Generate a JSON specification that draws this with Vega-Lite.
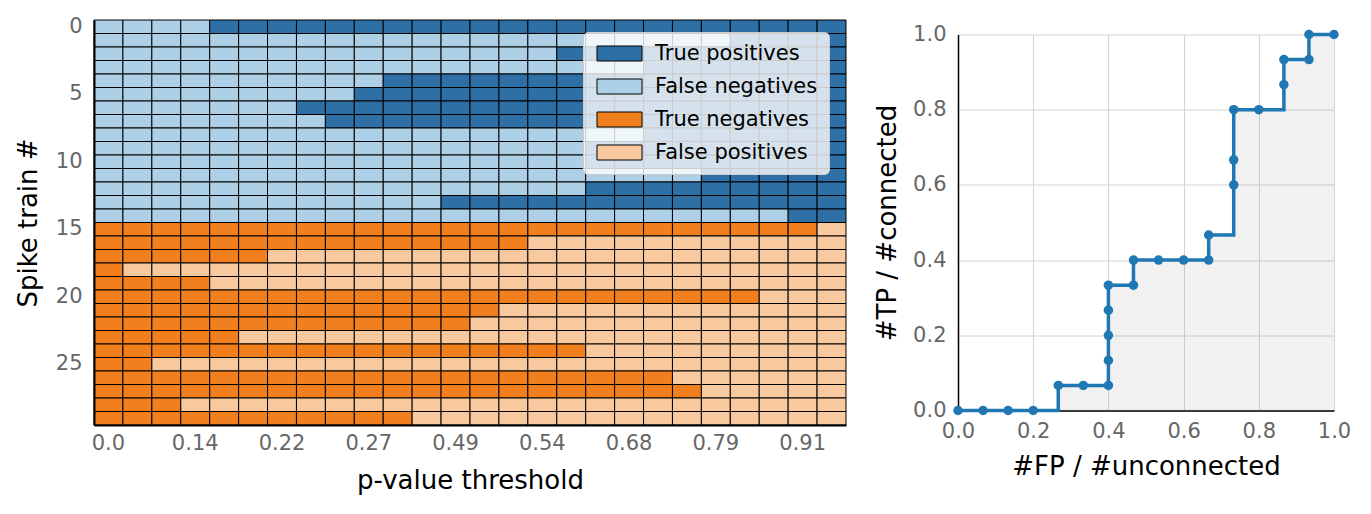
{
"$schema": "https://vega.github.io/schema/vega-lite/v6.json",
"padding": {"left": 15, "top": 15, "right": 5, "bottom": 5},
"spacing": 112,
"bounds": "flush",
"center": true,
"config": {"font": "DejaVu Sans", "view": {"stroke": null},
  "axis": {"labelFontSize": 21, "titleFontSize": 26, "labelColor": "#666666", "titleColor": "black", "titleFontWeight": "normal", "domainColor": "black", "domainWidth": 1.5, "ticks": false, "labelFlush": false}},
"datasets": {
"roc": [
{"i":0,"fp":0,"tp":0},{"i":1,"fp":0.0667,"tp":0},{"i":2,"fp":0.1333,"tp":0},{"i":3,"fp":0.2,"tp":0},{"i":4,"fp":0.2667,"tp":0.0667},{"i":5,"fp":0.3333,"tp":0.0667},{"i":6,"fp":0.4,"tp":0.0667},{"i":7,"fp":0.4,"tp":0.1333},{"i":8,"fp":0.4,"tp":0.2},{"i":9,"fp":0.4,"tp":0.2667},{"i":10,"fp":0.4,"tp":0.3333},{"i":11,"fp":0.4667,"tp":0.3333},{"i":12,"fp":0.4667,"tp":0.4},{"i":13,"fp":0.5333,"tp":0.4},{"i":14,"fp":0.6,"tp":0.4},{"i":15,"fp":0.6667,"tp":0.4},{"i":16,"fp":0.6667,"tp":0.4667},{"i":17,"fp":0.7333,"tp":0.6},{"i":18,"fp":0.7333,"tp":0.6667},{"i":19,"fp":0.7333,"tp":0.8},{"i":20,"fp":0.8,"tp":0.8},{"i":21,"fp":0.8667,"tp":0.8667},{"i":22,"fp":0.8667,"tp":0.9333},{"i":23,"fp":0.9333,"tp":0.9333},{"i":24,"fp":0.9333,"tp":1.0},{"i":25,"fp":1.0,"tp":1.0}
],
"cells": [
{"p":"0.0","s":0,"k":"FN"},{"p":"0.07","s":0,"k":"FN"},{"p":"0.1","s":0,"k":"FN"},{"p":"0.14","s":0,"k":"FN"},{"p":"0.17","s":0,"k":"TP"},{"p":"0.2","s":0,"k":"TP"},{"p":"0.22","s":0,"k":"TP"},{"p":"0.24","s":0,"k":"TP"},{"p":"0.25","s":0,"k":"TP"},{"p":"0.27","s":0,"k":"TP"},{"p":"0.36","s":0,"k":"TP"},{"p":"0.44","s":0,"k":"TP"},{"p":"0.49","s":0,"k":"TP"},{"p":"0.5","s":0,"k":"TP"},{"p":"0.52","s":0,"k":"TP"},{"p":"0.54","s":0,"k":"TP"},{"p":"0.59","s":0,"k":"TP"},{"p":"0.64","s":0,"k":"TP"},{"p":"0.68","s":0,"k":"TP"},{"p":"0.72","s":0,"k":"TP"},{"p":"0.76","s":0,"k":"TP"},{"p":"0.79","s":0,"k":"TP"},{"p":"0.83","s":0,"k":"TP"},{"p":"0.87","s":0,"k":"TP"},{"p":"0.91","s":0,"k":"TP"},{"p":"0.95","s":0,"k":"TP"},
{"p":"0.0","s":1,"k":"FN"},{"p":"0.07","s":1,"k":"FN"},{"p":"0.1","s":1,"k":"FN"},{"p":"0.14","s":1,"k":"FN"},{"p":"0.17","s":1,"k":"FN"},{"p":"0.2","s":1,"k":"FN"},{"p":"0.22","s":1,"k":"FN"},{"p":"0.24","s":1,"k":"FN"},{"p":"0.25","s":1,"k":"FN"},{"p":"0.27","s":1,"k":"FN"},{"p":"0.36","s":1,"k":"FN"},{"p":"0.44","s":1,"k":"FN"},{"p":"0.49","s":1,"k":"FN"},{"p":"0.5","s":1,"k":"FN"},{"p":"0.52","s":1,"k":"FN"},{"p":"0.54","s":1,"k":"FN"},{"p":"0.59","s":1,"k":"FN"},{"p":"0.64","s":1,"k":"FN"},{"p":"0.68","s":1,"k":"FN"},{"p":"0.72","s":1,"k":"FN"},{"p":"0.76","s":1,"k":"FN"},{"p":"0.79","s":1,"k":"FN"},{"p":"0.83","s":1,"k":"TP"},{"p":"0.87","s":1,"k":"TP"},{"p":"0.91","s":1,"k":"TP"},{"p":"0.95","s":1,"k":"TP"},
{"p":"0.0","s":2,"k":"FN"},{"p":"0.07","s":2,"k":"FN"},{"p":"0.1","s":2,"k":"FN"},{"p":"0.14","s":2,"k":"FN"},{"p":"0.17","s":2,"k":"FN"},{"p":"0.2","s":2,"k":"FN"},{"p":"0.22","s":2,"k":"FN"},{"p":"0.24","s":2,"k":"FN"},{"p":"0.25","s":2,"k":"FN"},{"p":"0.27","s":2,"k":"FN"},{"p":"0.36","s":2,"k":"FN"},{"p":"0.44","s":2,"k":"FN"},{"p":"0.49","s":2,"k":"FN"},{"p":"0.5","s":2,"k":"FN"},{"p":"0.52","s":2,"k":"FN"},{"p":"0.54","s":2,"k":"FN"},{"p":"0.59","s":2,"k":"TP"},{"p":"0.64","s":2,"k":"TP"},{"p":"0.68","s":2,"k":"TP"},{"p":"0.72","s":2,"k":"TP"},{"p":"0.76","s":2,"k":"TP"},{"p":"0.79","s":2,"k":"TP"},{"p":"0.83","s":2,"k":"TP"},{"p":"0.87","s":2,"k":"TP"},{"p":"0.91","s":2,"k":"TP"},{"p":"0.95","s":2,"k":"TP"},
{"p":"0.0","s":3,"k":"FN"},{"p":"0.07","s":3,"k":"FN"},{"p":"0.1","s":3,"k":"FN"},{"p":"0.14","s":3,"k":"FN"},{"p":"0.17","s":3,"k":"FN"},{"p":"0.2","s":3,"k":"FN"},{"p":"0.22","s":3,"k":"FN"},{"p":"0.24","s":3,"k":"FN"},{"p":"0.25","s":3,"k":"FN"},{"p":"0.27","s":3,"k":"FN"},{"p":"0.36","s":3,"k":"FN"},{"p":"0.44","s":3,"k":"FN"},{"p":"0.49","s":3,"k":"FN"},{"p":"0.5","s":3,"k":"FN"},{"p":"0.52","s":3,"k":"FN"},{"p":"0.54","s":3,"k":"FN"},{"p":"0.59","s":3,"k":"FN"},{"p":"0.64","s":3,"k":"FN"},{"p":"0.68","s":3,"k":"FN"},{"p":"0.72","s":3,"k":"TP"},{"p":"0.76","s":3,"k":"TP"},{"p":"0.79","s":3,"k":"TP"},{"p":"0.83","s":3,"k":"TP"},{"p":"0.87","s":3,"k":"TP"},{"p":"0.91","s":3,"k":"TP"},{"p":"0.95","s":3,"k":"TP"},
{"p":"0.0","s":4,"k":"FN"},{"p":"0.07","s":4,"k":"FN"},{"p":"0.1","s":4,"k":"FN"},{"p":"0.14","s":4,"k":"FN"},{"p":"0.17","s":4,"k":"FN"},{"p":"0.2","s":4,"k":"FN"},{"p":"0.22","s":4,"k":"FN"},{"p":"0.24","s":4,"k":"FN"},{"p":"0.25","s":4,"k":"FN"},{"p":"0.27","s":4,"k":"FN"},{"p":"0.36","s":4,"k":"TP"},{"p":"0.44","s":4,"k":"TP"},{"p":"0.49","s":4,"k":"TP"},{"p":"0.5","s":4,"k":"TP"},{"p":"0.52","s":4,"k":"TP"},{"p":"0.54","s":4,"k":"TP"},{"p":"0.59","s":4,"k":"TP"},{"p":"0.64","s":4,"k":"TP"},{"p":"0.68","s":4,"k":"TP"},{"p":"0.72","s":4,"k":"TP"},{"p":"0.76","s":4,"k":"TP"},{"p":"0.79","s":4,"k":"TP"},{"p":"0.83","s":4,"k":"TP"},{"p":"0.87","s":4,"k":"TP"},{"p":"0.91","s":4,"k":"TP"},{"p":"0.95","s":4,"k":"TP"},
{"p":"0.0","s":5,"k":"FN"},{"p":"0.07","s":5,"k":"FN"},{"p":"0.1","s":5,"k":"FN"},{"p":"0.14","s":5,"k":"FN"},{"p":"0.17","s":5,"k":"FN"},{"p":"0.2","s":5,"k":"FN"},{"p":"0.22","s":5,"k":"FN"},{"p":"0.24","s":5,"k":"FN"},{"p":"0.25","s":5,"k":"FN"},{"p":"0.27","s":5,"k":"TP"},{"p":"0.36","s":5,"k":"TP"},{"p":"0.44","s":5,"k":"TP"},{"p":"0.49","s":5,"k":"TP"},{"p":"0.5","s":5,"k":"TP"},{"p":"0.52","s":5,"k":"TP"},{"p":"0.54","s":5,"k":"TP"},{"p":"0.59","s":5,"k":"TP"},{"p":"0.64","s":5,"k":"TP"},{"p":"0.68","s":5,"k":"TP"},{"p":"0.72","s":5,"k":"TP"},{"p":"0.76","s":5,"k":"TP"},{"p":"0.79","s":5,"k":"TP"},{"p":"0.83","s":5,"k":"TP"},{"p":"0.87","s":5,"k":"TP"},{"p":"0.91","s":5,"k":"TP"},{"p":"0.95","s":5,"k":"TP"},
{"p":"0.0","s":6,"k":"FN"},{"p":"0.07","s":6,"k":"FN"},{"p":"0.1","s":6,"k":"FN"},{"p":"0.14","s":6,"k":"FN"},{"p":"0.17","s":6,"k":"FN"},{"p":"0.2","s":6,"k":"FN"},{"p":"0.22","s":6,"k":"FN"},{"p":"0.24","s":6,"k":"TP"},{"p":"0.25","s":6,"k":"TP"},{"p":"0.27","s":6,"k":"TP"},{"p":"0.36","s":6,"k":"TP"},{"p":"0.44","s":6,"k":"TP"},{"p":"0.49","s":6,"k":"TP"},{"p":"0.5","s":6,"k":"TP"},{"p":"0.52","s":6,"k":"TP"},{"p":"0.54","s":6,"k":"TP"},{"p":"0.59","s":6,"k":"TP"},{"p":"0.64","s":6,"k":"TP"},{"p":"0.68","s":6,"k":"TP"},{"p":"0.72","s":6,"k":"TP"},{"p":"0.76","s":6,"k":"TP"},{"p":"0.79","s":6,"k":"TP"},{"p":"0.83","s":6,"k":"TP"},{"p":"0.87","s":6,"k":"TP"},{"p":"0.91","s":6,"k":"TP"},{"p":"0.95","s":6,"k":"TP"},
{"p":"0.0","s":7,"k":"FN"},{"p":"0.07","s":7,"k":"FN"},{"p":"0.1","s":7,"k":"FN"},{"p":"0.14","s":7,"k":"FN"},{"p":"0.17","s":7,"k":"FN"},{"p":"0.2","s":7,"k":"FN"},{"p":"0.22","s":7,"k":"FN"},{"p":"0.24","s":7,"k":"FN"},{"p":"0.25","s":7,"k":"TP"},{"p":"0.27","s":7,"k":"TP"},{"p":"0.36","s":7,"k":"TP"},{"p":"0.44","s":7,"k":"TP"},{"p":"0.49","s":7,"k":"TP"},{"p":"0.5","s":7,"k":"TP"},{"p":"0.52","s":7,"k":"TP"},{"p":"0.54","s":7,"k":"TP"},{"p":"0.59","s":7,"k":"TP"},{"p":"0.64","s":7,"k":"TP"},{"p":"0.68","s":7,"k":"TP"},{"p":"0.72","s":7,"k":"TP"},{"p":"0.76","s":7,"k":"TP"},{"p":"0.79","s":7,"k":"TP"},{"p":"0.83","s":7,"k":"TP"},{"p":"0.87","s":7,"k":"TP"},{"p":"0.91","s":7,"k":"TP"},{"p":"0.95","s":7,"k":"TP"},
{"p":"0.0","s":8,"k":"FN"},{"p":"0.07","s":8,"k":"FN"},{"p":"0.1","s":8,"k":"FN"},{"p":"0.14","s":8,"k":"FN"},{"p":"0.17","s":8,"k":"FN"},{"p":"0.2","s":8,"k":"FN"},{"p":"0.22","s":8,"k":"FN"},{"p":"0.24","s":8,"k":"FN"},{"p":"0.25","s":8,"k":"FN"},{"p":"0.27","s":8,"k":"FN"},{"p":"0.36","s":8,"k":"FN"},{"p":"0.44","s":8,"k":"FN"},{"p":"0.49","s":8,"k":"FN"},{"p":"0.5","s":8,"k":"FN"},{"p":"0.52","s":8,"k":"FN"},{"p":"0.54","s":8,"k":"FN"},{"p":"0.59","s":8,"k":"FN"},{"p":"0.64","s":8,"k":"FN"},{"p":"0.68","s":8,"k":"FN"},{"p":"0.72","s":8,"k":"TP"},{"p":"0.76","s":8,"k":"TP"},{"p":"0.79","s":8,"k":"TP"},{"p":"0.83","s":8,"k":"TP"},{"p":"0.87","s":8,"k":"TP"},{"p":"0.91","s":8,"k":"TP"},{"p":"0.95","s":8,"k":"TP"},
{"p":"0.0","s":9,"k":"FN"},{"p":"0.07","s":9,"k":"FN"},{"p":"0.1","s":9,"k":"FN"},{"p":"0.14","s":9,"k":"FN"},{"p":"0.17","s":9,"k":"FN"},{"p":"0.2","s":9,"k":"FN"},{"p":"0.22","s":9,"k":"FN"},{"p":"0.24","s":9,"k":"FN"},{"p":"0.25","s":9,"k":"FN"},{"p":"0.27","s":9,"k":"FN"},{"p":"0.36","s":9,"k":"FN"},{"p":"0.44","s":9,"k":"FN"},{"p":"0.49","s":9,"k":"FN"},{"p":"0.5","s":9,"k":"FN"},{"p":"0.52","s":9,"k":"FN"},{"p":"0.54","s":9,"k":"FN"},{"p":"0.59","s":9,"k":"FN"},{"p":"0.64","s":9,"k":"TP"},{"p":"0.68","s":9,"k":"TP"},{"p":"0.72","s":9,"k":"TP"},{"p":"0.76","s":9,"k":"TP"},{"p":"0.79","s":9,"k":"TP"},{"p":"0.83","s":9,"k":"TP"},{"p":"0.87","s":9,"k":"TP"},{"p":"0.91","s":9,"k":"TP"},{"p":"0.95","s":9,"k":"TP"},
{"p":"0.0","s":10,"k":"FN"},{"p":"0.07","s":10,"k":"FN"},{"p":"0.1","s":10,"k":"FN"},{"p":"0.14","s":10,"k":"FN"},{"p":"0.17","s":10,"k":"FN"},{"p":"0.2","s":10,"k":"FN"},{"p":"0.22","s":10,"k":"FN"},{"p":"0.24","s":10,"k":"FN"},{"p":"0.25","s":10,"k":"FN"},{"p":"0.27","s":10,"k":"FN"},{"p":"0.36","s":10,"k":"FN"},{"p":"0.44","s":10,"k":"FN"},{"p":"0.49","s":10,"k":"FN"},{"p":"0.5","s":10,"k":"FN"},{"p":"0.52","s":10,"k":"FN"},{"p":"0.54","s":10,"k":"FN"},{"p":"0.59","s":10,"k":"FN"},{"p":"0.64","s":10,"k":"TP"},{"p":"0.68","s":10,"k":"TP"},{"p":"0.72","s":10,"k":"TP"},{"p":"0.76","s":10,"k":"TP"},{"p":"0.79","s":10,"k":"TP"},{"p":"0.83","s":10,"k":"TP"},{"p":"0.87","s":10,"k":"TP"},{"p":"0.91","s":10,"k":"TP"},{"p":"0.95","s":10,"k":"TP"},
{"p":"0.0","s":11,"k":"FN"},{"p":"0.07","s":11,"k":"FN"},{"p":"0.1","s":11,"k":"FN"},{"p":"0.14","s":11,"k":"FN"},{"p":"0.17","s":11,"k":"FN"},{"p":"0.2","s":11,"k":"FN"},{"p":"0.22","s":11,"k":"FN"},{"p":"0.24","s":11,"k":"FN"},{"p":"0.25","s":11,"k":"FN"},{"p":"0.27","s":11,"k":"FN"},{"p":"0.36","s":11,"k":"FN"},{"p":"0.44","s":11,"k":"FN"},{"p":"0.49","s":11,"k":"FN"},{"p":"0.5","s":11,"k":"FN"},{"p":"0.52","s":11,"k":"FN"},{"p":"0.54","s":11,"k":"FN"},{"p":"0.59","s":11,"k":"FN"},{"p":"0.64","s":11,"k":"FN"},{"p":"0.68","s":11,"k":"FN"},{"p":"0.72","s":11,"k":"FN"},{"p":"0.76","s":11,"k":"FN"},{"p":"0.79","s":11,"k":"TP"},{"p":"0.83","s":11,"k":"TP"},{"p":"0.87","s":11,"k":"TP"},{"p":"0.91","s":11,"k":"TP"},{"p":"0.95","s":11,"k":"TP"},
{"p":"0.0","s":12,"k":"FN"},{"p":"0.07","s":12,"k":"FN"},{"p":"0.1","s":12,"k":"FN"},{"p":"0.14","s":12,"k":"FN"},{"p":"0.17","s":12,"k":"FN"},{"p":"0.2","s":12,"k":"FN"},{"p":"0.22","s":12,"k":"FN"},{"p":"0.24","s":12,"k":"FN"},{"p":"0.25","s":12,"k":"FN"},{"p":"0.27","s":12,"k":"FN"},{"p":"0.36","s":12,"k":"FN"},{"p":"0.44","s":12,"k":"FN"},{"p":"0.49","s":12,"k":"FN"},{"p":"0.5","s":12,"k":"FN"},{"p":"0.52","s":12,"k":"FN"},{"p":"0.54","s":12,"k":"FN"},{"p":"0.59","s":12,"k":"FN"},{"p":"0.64","s":12,"k":"TP"},{"p":"0.68","s":12,"k":"TP"},{"p":"0.72","s":12,"k":"TP"},{"p":"0.76","s":12,"k":"TP"},{"p":"0.79","s":12,"k":"TP"},{"p":"0.83","s":12,"k":"TP"},{"p":"0.87","s":12,"k":"TP"},{"p":"0.91","s":12,"k":"TP"},{"p":"0.95","s":12,"k":"TP"},
{"p":"0.0","s":13,"k":"FN"},{"p":"0.07","s":13,"k":"FN"},{"p":"0.1","s":13,"k":"FN"},{"p":"0.14","s":13,"k":"FN"},{"p":"0.17","s":13,"k":"FN"},{"p":"0.2","s":13,"k":"FN"},{"p":"0.22","s":13,"k":"FN"},{"p":"0.24","s":13,"k":"FN"},{"p":"0.25","s":13,"k":"FN"},{"p":"0.27","s":13,"k":"FN"},{"p":"0.36","s":13,"k":"FN"},{"p":"0.44","s":13,"k":"FN"},{"p":"0.49","s":13,"k":"TP"},{"p":"0.5","s":13,"k":"TP"},{"p":"0.52","s":13,"k":"TP"},{"p":"0.54","s":13,"k":"TP"},{"p":"0.59","s":13,"k":"TP"},{"p":"0.64","s":13,"k":"TP"},{"p":"0.68","s":13,"k":"TP"},{"p":"0.72","s":13,"k":"TP"},{"p":"0.76","s":13,"k":"TP"},{"p":"0.79","s":13,"k":"TP"},{"p":"0.83","s":13,"k":"TP"},{"p":"0.87","s":13,"k":"TP"},{"p":"0.91","s":13,"k":"TP"},{"p":"0.95","s":13,"k":"TP"},
{"p":"0.0","s":14,"k":"FN"},{"p":"0.07","s":14,"k":"FN"},{"p":"0.1","s":14,"k":"FN"},{"p":"0.14","s":14,"k":"FN"},{"p":"0.17","s":14,"k":"FN"},{"p":"0.2","s":14,"k":"FN"},{"p":"0.22","s":14,"k":"FN"},{"p":"0.24","s":14,"k":"FN"},{"p":"0.25","s":14,"k":"FN"},{"p":"0.27","s":14,"k":"FN"},{"p":"0.36","s":14,"k":"FN"},{"p":"0.44","s":14,"k":"FN"},{"p":"0.49","s":14,"k":"FN"},{"p":"0.5","s":14,"k":"FN"},{"p":"0.52","s":14,"k":"FN"},{"p":"0.54","s":14,"k":"FN"},{"p":"0.59","s":14,"k":"FN"},{"p":"0.64","s":14,"k":"FN"},{"p":"0.68","s":14,"k":"FN"},{"p":"0.72","s":14,"k":"FN"},{"p":"0.76","s":14,"k":"FN"},{"p":"0.79","s":14,"k":"FN"},{"p":"0.83","s":14,"k":"FN"},{"p":"0.87","s":14,"k":"FN"},{"p":"0.91","s":14,"k":"TP"},{"p":"0.95","s":14,"k":"TP"},
{"p":"0.0","s":15,"k":"TN"},{"p":"0.07","s":15,"k":"TN"},{"p":"0.1","s":15,"k":"TN"},{"p":"0.14","s":15,"k":"TN"},{"p":"0.17","s":15,"k":"TN"},{"p":"0.2","s":15,"k":"TN"},{"p":"0.22","s":15,"k":"TN"},{"p":"0.24","s":15,"k":"TN"},{"p":"0.25","s":15,"k":"TN"},{"p":"0.27","s":15,"k":"TN"},{"p":"0.36","s":15,"k":"TN"},{"p":"0.44","s":15,"k":"TN"},{"p":"0.49","s":15,"k":"TN"},{"p":"0.5","s":15,"k":"TN"},{"p":"0.52","s":15,"k":"TN"},{"p":"0.54","s":15,"k":"TN"},{"p":"0.59","s":15,"k":"TN"},{"p":"0.64","s":15,"k":"TN"},{"p":"0.68","s":15,"k":"TN"},{"p":"0.72","s":15,"k":"TN"},{"p":"0.76","s":15,"k":"TN"},{"p":"0.79","s":15,"k":"TN"},{"p":"0.83","s":15,"k":"TN"},{"p":"0.87","s":15,"k":"TN"},{"p":"0.91","s":15,"k":"TN"},{"p":"0.95","s":15,"k":"FP"},
{"p":"0.0","s":16,"k":"TN"},{"p":"0.07","s":16,"k":"TN"},{"p":"0.1","s":16,"k":"TN"},{"p":"0.14","s":16,"k":"TN"},{"p":"0.17","s":16,"k":"TN"},{"p":"0.2","s":16,"k":"TN"},{"p":"0.22","s":16,"k":"TN"},{"p":"0.24","s":16,"k":"TN"},{"p":"0.25","s":16,"k":"TN"},{"p":"0.27","s":16,"k":"TN"},{"p":"0.36","s":16,"k":"TN"},{"p":"0.44","s":16,"k":"TN"},{"p":"0.49","s":16,"k":"TN"},{"p":"0.5","s":16,"k":"TN"},{"p":"0.52","s":16,"k":"TN"},{"p":"0.54","s":16,"k":"FP"},{"p":"0.59","s":16,"k":"FP"},{"p":"0.64","s":16,"k":"FP"},{"p":"0.68","s":16,"k":"FP"},{"p":"0.72","s":16,"k":"FP"},{"p":"0.76","s":16,"k":"FP"},{"p":"0.79","s":16,"k":"FP"},{"p":"0.83","s":16,"k":"FP"},{"p":"0.87","s":16,"k":"FP"},{"p":"0.91","s":16,"k":"FP"},{"p":"0.95","s":16,"k":"FP"},
{"p":"0.0","s":17,"k":"TN"},{"p":"0.07","s":17,"k":"TN"},{"p":"0.1","s":17,"k":"TN"},{"p":"0.14","s":17,"k":"TN"},{"p":"0.17","s":17,"k":"TN"},{"p":"0.2","s":17,"k":"TN"},{"p":"0.22","s":17,"k":"FP"},{"p":"0.24","s":17,"k":"FP"},{"p":"0.25","s":17,"k":"FP"},{"p":"0.27","s":17,"k":"FP"},{"p":"0.36","s":17,"k":"FP"},{"p":"0.44","s":17,"k":"FP"},{"p":"0.49","s":17,"k":"FP"},{"p":"0.5","s":17,"k":"FP"},{"p":"0.52","s":17,"k":"FP"},{"p":"0.54","s":17,"k":"FP"},{"p":"0.59","s":17,"k":"FP"},{"p":"0.64","s":17,"k":"FP"},{"p":"0.68","s":17,"k":"FP"},{"p":"0.72","s":17,"k":"FP"},{"p":"0.76","s":17,"k":"FP"},{"p":"0.79","s":17,"k":"FP"},{"p":"0.83","s":17,"k":"FP"},{"p":"0.87","s":17,"k":"FP"},{"p":"0.91","s":17,"k":"FP"},{"p":"0.95","s":17,"k":"FP"},
{"p":"0.0","s":18,"k":"TN"},{"p":"0.07","s":18,"k":"FP"},{"p":"0.1","s":18,"k":"FP"},{"p":"0.14","s":18,"k":"FP"},{"p":"0.17","s":18,"k":"FP"},{"p":"0.2","s":18,"k":"FP"},{"p":"0.22","s":18,"k":"FP"},{"p":"0.24","s":18,"k":"FP"},{"p":"0.25","s":18,"k":"FP"},{"p":"0.27","s":18,"k":"FP"},{"p":"0.36","s":18,"k":"FP"},{"p":"0.44","s":18,"k":"FP"},{"p":"0.49","s":18,"k":"FP"},{"p":"0.5","s":18,"k":"FP"},{"p":"0.52","s":18,"k":"FP"},{"p":"0.54","s":18,"k":"FP"},{"p":"0.59","s":18,"k":"FP"},{"p":"0.64","s":18,"k":"FP"},{"p":"0.68","s":18,"k":"FP"},{"p":"0.72","s":18,"k":"FP"},{"p":"0.76","s":18,"k":"FP"},{"p":"0.79","s":18,"k":"FP"},{"p":"0.83","s":18,"k":"FP"},{"p":"0.87","s":18,"k":"FP"},{"p":"0.91","s":18,"k":"FP"},{"p":"0.95","s":18,"k":"FP"},
{"p":"0.0","s":19,"k":"TN"},{"p":"0.07","s":19,"k":"TN"},{"p":"0.1","s":19,"k":"TN"},{"p":"0.14","s":19,"k":"TN"},{"p":"0.17","s":19,"k":"FP"},{"p":"0.2","s":19,"k":"FP"},{"p":"0.22","s":19,"k":"FP"},{"p":"0.24","s":19,"k":"FP"},{"p":"0.25","s":19,"k":"FP"},{"p":"0.27","s":19,"k":"FP"},{"p":"0.36","s":19,"k":"FP"},{"p":"0.44","s":19,"k":"FP"},{"p":"0.49","s":19,"k":"FP"},{"p":"0.5","s":19,"k":"FP"},{"p":"0.52","s":19,"k":"FP"},{"p":"0.54","s":19,"k":"FP"},{"p":"0.59","s":19,"k":"FP"},{"p":"0.64","s":19,"k":"FP"},{"p":"0.68","s":19,"k":"FP"},{"p":"0.72","s":19,"k":"FP"},{"p":"0.76","s":19,"k":"FP"},{"p":"0.79","s":19,"k":"FP"},{"p":"0.83","s":19,"k":"FP"},{"p":"0.87","s":19,"k":"FP"},{"p":"0.91","s":19,"k":"FP"},{"p":"0.95","s":19,"k":"FP"},
{"p":"0.0","s":20,"k":"TN"},{"p":"0.07","s":20,"k":"TN"},{"p":"0.1","s":20,"k":"TN"},{"p":"0.14","s":20,"k":"TN"},{"p":"0.17","s":20,"k":"TN"},{"p":"0.2","s":20,"k":"TN"},{"p":"0.22","s":20,"k":"TN"},{"p":"0.24","s":20,"k":"TN"},{"p":"0.25","s":20,"k":"TN"},{"p":"0.27","s":20,"k":"TN"},{"p":"0.36","s":20,"k":"TN"},{"p":"0.44","s":20,"k":"TN"},{"p":"0.49","s":20,"k":"TN"},{"p":"0.5","s":20,"k":"TN"},{"p":"0.52","s":20,"k":"TN"},{"p":"0.54","s":20,"k":"TN"},{"p":"0.59","s":20,"k":"TN"},{"p":"0.64","s":20,"k":"TN"},{"p":"0.68","s":20,"k":"TN"},{"p":"0.72","s":20,"k":"TN"},{"p":"0.76","s":20,"k":"TN"},{"p":"0.79","s":20,"k":"TN"},{"p":"0.83","s":20,"k":"TN"},{"p":"0.87","s":20,"k":"FP"},{"p":"0.91","s":20,"k":"FP"},{"p":"0.95","s":20,"k":"FP"},
{"p":"0.0","s":21,"k":"TN"},{"p":"0.07","s":21,"k":"TN"},{"p":"0.1","s":21,"k":"TN"},{"p":"0.14","s":21,"k":"TN"},{"p":"0.17","s":21,"k":"TN"},{"p":"0.2","s":21,"k":"TN"},{"p":"0.22","s":21,"k":"TN"},{"p":"0.24","s":21,"k":"TN"},{"p":"0.25","s":21,"k":"TN"},{"p":"0.27","s":21,"k":"TN"},{"p":"0.36","s":21,"k":"TN"},{"p":"0.44","s":21,"k":"TN"},{"p":"0.49","s":21,"k":"TN"},{"p":"0.5","s":21,"k":"TN"},{"p":"0.52","s":21,"k":"FP"},{"p":"0.54","s":21,"k":"FP"},{"p":"0.59","s":21,"k":"FP"},{"p":"0.64","s":21,"k":"FP"},{"p":"0.68","s":21,"k":"FP"},{"p":"0.72","s":21,"k":"FP"},{"p":"0.76","s":21,"k":"FP"},{"p":"0.79","s":21,"k":"FP"},{"p":"0.83","s":21,"k":"FP"},{"p":"0.87","s":21,"k":"FP"},{"p":"0.91","s":21,"k":"FP"},{"p":"0.95","s":21,"k":"FP"},
{"p":"0.0","s":22,"k":"TN"},{"p":"0.07","s":22,"k":"TN"},{"p":"0.1","s":22,"k":"TN"},{"p":"0.14","s":22,"k":"TN"},{"p":"0.17","s":22,"k":"TN"},{"p":"0.2","s":22,"k":"TN"},{"p":"0.22","s":22,"k":"TN"},{"p":"0.24","s":22,"k":"TN"},{"p":"0.25","s":22,"k":"TN"},{"p":"0.27","s":22,"k":"TN"},{"p":"0.36","s":22,"k":"TN"},{"p":"0.44","s":22,"k":"TN"},{"p":"0.49","s":22,"k":"TN"},{"p":"0.5","s":22,"k":"FP"},{"p":"0.52","s":22,"k":"FP"},{"p":"0.54","s":22,"k":"FP"},{"p":"0.59","s":22,"k":"FP"},{"p":"0.64","s":22,"k":"FP"},{"p":"0.68","s":22,"k":"FP"},{"p":"0.72","s":22,"k":"FP"},{"p":"0.76","s":22,"k":"FP"},{"p":"0.79","s":22,"k":"FP"},{"p":"0.83","s":22,"k":"FP"},{"p":"0.87","s":22,"k":"FP"},{"p":"0.91","s":22,"k":"FP"},{"p":"0.95","s":22,"k":"FP"},
{"p":"0.0","s":23,"k":"TN"},{"p":"0.07","s":23,"k":"TN"},{"p":"0.1","s":23,"k":"TN"},{"p":"0.14","s":23,"k":"TN"},{"p":"0.17","s":23,"k":"TN"},{"p":"0.2","s":23,"k":"FP"},{"p":"0.22","s":23,"k":"FP"},{"p":"0.24","s":23,"k":"FP"},{"p":"0.25","s":23,"k":"FP"},{"p":"0.27","s":23,"k":"FP"},{"p":"0.36","s":23,"k":"FP"},{"p":"0.44","s":23,"k":"FP"},{"p":"0.49","s":23,"k":"FP"},{"p":"0.5","s":23,"k":"FP"},{"p":"0.52","s":23,"k":"FP"},{"p":"0.54","s":23,"k":"FP"},{"p":"0.59","s":23,"k":"FP"},{"p":"0.64","s":23,"k":"FP"},{"p":"0.68","s":23,"k":"FP"},{"p":"0.72","s":23,"k":"FP"},{"p":"0.76","s":23,"k":"FP"},{"p":"0.79","s":23,"k":"FP"},{"p":"0.83","s":23,"k":"FP"},{"p":"0.87","s":23,"k":"FP"},{"p":"0.91","s":23,"k":"FP"},{"p":"0.95","s":23,"k":"FP"},
{"p":"0.0","s":24,"k":"TN"},{"p":"0.07","s":24,"k":"TN"},{"p":"0.1","s":24,"k":"TN"},{"p":"0.14","s":24,"k":"TN"},{"p":"0.17","s":24,"k":"TN"},{"p":"0.2","s":24,"k":"TN"},{"p":"0.22","s":24,"k":"TN"},{"p":"0.24","s":24,"k":"TN"},{"p":"0.25","s":24,"k":"TN"},{"p":"0.27","s":24,"k":"TN"},{"p":"0.36","s":24,"k":"TN"},{"p":"0.44","s":24,"k":"TN"},{"p":"0.49","s":24,"k":"TN"},{"p":"0.5","s":24,"k":"TN"},{"p":"0.52","s":24,"k":"TN"},{"p":"0.54","s":24,"k":"TN"},{"p":"0.59","s":24,"k":"TN"},{"p":"0.64","s":24,"k":"FP"},{"p":"0.68","s":24,"k":"FP"},{"p":"0.72","s":24,"k":"FP"},{"p":"0.76","s":24,"k":"FP"},{"p":"0.79","s":24,"k":"FP"},{"p":"0.83","s":24,"k":"FP"},{"p":"0.87","s":24,"k":"FP"},{"p":"0.91","s":24,"k":"FP"},{"p":"0.95","s":24,"k":"FP"},
{"p":"0.0","s":25,"k":"TN"},{"p":"0.07","s":25,"k":"TN"},{"p":"0.1","s":25,"k":"FP"},{"p":"0.14","s":25,"k":"FP"},{"p":"0.17","s":25,"k":"FP"},{"p":"0.2","s":25,"k":"FP"},{"p":"0.22","s":25,"k":"FP"},{"p":"0.24","s":25,"k":"FP"},{"p":"0.25","s":25,"k":"FP"},{"p":"0.27","s":25,"k":"FP"},{"p":"0.36","s":25,"k":"FP"},{"p":"0.44","s":25,"k":"FP"},{"p":"0.49","s":25,"k":"FP"},{"p":"0.5","s":25,"k":"FP"},{"p":"0.52","s":25,"k":"FP"},{"p":"0.54","s":25,"k":"FP"},{"p":"0.59","s":25,"k":"FP"},{"p":"0.64","s":25,"k":"FP"},{"p":"0.68","s":25,"k":"FP"},{"p":"0.72","s":25,"k":"FP"},{"p":"0.76","s":25,"k":"FP"},{"p":"0.79","s":25,"k":"FP"},{"p":"0.83","s":25,"k":"FP"},{"p":"0.87","s":25,"k":"FP"},{"p":"0.91","s":25,"k":"FP"},{"p":"0.95","s":25,"k":"FP"},
{"p":"0.0","s":26,"k":"TN"},{"p":"0.07","s":26,"k":"TN"},{"p":"0.1","s":26,"k":"TN"},{"p":"0.14","s":26,"k":"TN"},{"p":"0.17","s":26,"k":"TN"},{"p":"0.2","s":26,"k":"TN"},{"p":"0.22","s":26,"k":"TN"},{"p":"0.24","s":26,"k":"TN"},{"p":"0.25","s":26,"k":"TN"},{"p":"0.27","s":26,"k":"TN"},{"p":"0.36","s":26,"k":"TN"},{"p":"0.44","s":26,"k":"TN"},{"p":"0.49","s":26,"k":"TN"},{"p":"0.5","s":26,"k":"TN"},{"p":"0.52","s":26,"k":"TN"},{"p":"0.54","s":26,"k":"TN"},{"p":"0.59","s":26,"k":"TN"},{"p":"0.64","s":26,"k":"TN"},{"p":"0.68","s":26,"k":"TN"},{"p":"0.72","s":26,"k":"TN"},{"p":"0.76","s":26,"k":"FP"},{"p":"0.79","s":26,"k":"FP"},{"p":"0.83","s":26,"k":"FP"},{"p":"0.87","s":26,"k":"FP"},{"p":"0.91","s":26,"k":"FP"},{"p":"0.95","s":26,"k":"FP"},
{"p":"0.0","s":27,"k":"TN"},{"p":"0.07","s":27,"k":"TN"},{"p":"0.1","s":27,"k":"TN"},{"p":"0.14","s":27,"k":"TN"},{"p":"0.17","s":27,"k":"TN"},{"p":"0.2","s":27,"k":"TN"},{"p":"0.22","s":27,"k":"TN"},{"p":"0.24","s":27,"k":"TN"},{"p":"0.25","s":27,"k":"TN"},{"p":"0.27","s":27,"k":"TN"},{"p":"0.36","s":27,"k":"TN"},{"p":"0.44","s":27,"k":"TN"},{"p":"0.49","s":27,"k":"TN"},{"p":"0.5","s":27,"k":"TN"},{"p":"0.52","s":27,"k":"TN"},{"p":"0.54","s":27,"k":"TN"},{"p":"0.59","s":27,"k":"TN"},{"p":"0.64","s":27,"k":"TN"},{"p":"0.68","s":27,"k":"TN"},{"p":"0.72","s":27,"k":"TN"},{"p":"0.76","s":27,"k":"TN"},{"p":"0.79","s":27,"k":"FP"},{"p":"0.83","s":27,"k":"FP"},{"p":"0.87","s":27,"k":"FP"},{"p":"0.91","s":27,"k":"FP"},{"p":"0.95","s":27,"k":"FP"},
{"p":"0.0","s":28,"k":"TN"},{"p":"0.07","s":28,"k":"TN"},{"p":"0.1","s":28,"k":"TN"},{"p":"0.14","s":28,"k":"FP"},{"p":"0.17","s":28,"k":"FP"},{"p":"0.2","s":28,"k":"FP"},{"p":"0.22","s":28,"k":"FP"},{"p":"0.24","s":28,"k":"FP"},{"p":"0.25","s":28,"k":"FP"},{"p":"0.27","s":28,"k":"FP"},{"p":"0.36","s":28,"k":"FP"},{"p":"0.44","s":28,"k":"FP"},{"p":"0.49","s":28,"k":"FP"},{"p":"0.5","s":28,"k":"FP"},{"p":"0.52","s":28,"k":"FP"},{"p":"0.54","s":28,"k":"FP"},{"p":"0.59","s":28,"k":"FP"},{"p":"0.64","s":28,"k":"FP"},{"p":"0.68","s":28,"k":"FP"},{"p":"0.72","s":28,"k":"FP"},{"p":"0.76","s":28,"k":"FP"},{"p":"0.79","s":28,"k":"FP"},{"p":"0.83","s":28,"k":"FP"},{"p":"0.87","s":28,"k":"FP"},{"p":"0.91","s":28,"k":"FP"},{"p":"0.95","s":28,"k":"FP"},
{"p":"0.0","s":29,"k":"TN"},{"p":"0.07","s":29,"k":"TN"},{"p":"0.1","s":29,"k":"TN"},{"p":"0.14","s":29,"k":"TN"},{"p":"0.17","s":29,"k":"TN"},{"p":"0.2","s":29,"k":"TN"},{"p":"0.22","s":29,"k":"TN"},{"p":"0.24","s":29,"k":"TN"},{"p":"0.25","s":29,"k":"TN"},{"p":"0.27","s":29,"k":"TN"},{"p":"0.36","s":29,"k":"TN"},{"p":"0.44","s":29,"k":"FP"},{"p":"0.49","s":29,"k":"FP"},{"p":"0.5","s":29,"k":"FP"},{"p":"0.52","s":29,"k":"FP"},{"p":"0.54","s":29,"k":"FP"},{"p":"0.59","s":29,"k":"FP"},{"p":"0.64","s":29,"k":"FP"},{"p":"0.68","s":29,"k":"FP"},{"p":"0.72","s":29,"k":"FP"},{"p":"0.76","s":29,"k":"FP"},{"p":"0.79","s":29,"k":"FP"},{"p":"0.83","s":29,"k":"FP"},{"p":"0.87","s":29,"k":"FP"},{"p":"0.91","s":29,"k":"FP"},{"p":"0.95","s":29,"k":"FP"}
]
},
"hconcat": [
{
"width": 752, "height": 405,
"data": {"name": "cells"},
"mark": {"type": "rect", "stroke": "black", "strokeWidth": 1},
"encoding": {
  "x": {"field": "p", "type": "ordinal", "sort": null, "scale": {"paddingInner": 0, "paddingOuter": 0},
    "axis": {"title": "p-value threshold", "values": ["0.0","0.14","0.22","0.27","0.49","0.54","0.68","0.79","0.91"], "labelAngle": 0, "labelPadding": 7, "titlePadding": 14, "grid": false, "domainWidth": 2}},
  "y": {"field": "s", "type": "ordinal", "scale": {"paddingInner": 0, "paddingOuter": 0},
    "axis": {"title": "Spike train #", "values": [0,5,10,15,20,25], "labelPadding": 12, "titlePadding": 14, "grid": false, "domainWidth": 2}},
  "color": {"field": "k", "type": "nominal",
    "scale": {"domain": ["TP","FN","TN","FP"], "range": ["#2e6fa5","#aed0e7","#f17f1e","#f8c89e"]},
    "legend": {"title": null, "orient": "none", "legendX": 489, "legendY": 12,
      "fillColor": "rgba(255,255,255,0.8)", "strokeColor": "#cccccc", "cornerRadius": 5, "padding": 11,
      "symbolType": "M-1,-1H5V1H-1Z", "symbolSize": 225, "symbolStrokeColor": "black", "symbolStrokeWidth": 1, "symbolOpacity": 1,
      "labelFontSize": 21, "labelColor": "black", "labelOffset": 40, "labelLimit": 400, "rowPadding": 11,
      "labelExpr": "{'TP':'True positives','FN':'False negatives','TN':'True negatives','FP':'False positives'}[datum.label]"}}
}
},
{
"width": 376, "height": 376,
"data": {"name": "roc"},
"encoding": {
  "x": {"field": "fp", "type": "quantitative", "scale": {"domain": [0,1], "nice": false},
    "axis": {"title": "#FP / #unconnected", "values": [0,0.2,0.4,0.6,0.8,1], "format": ".1f", "grid": true, "gridColor": "#d4d4d4", "labelPadding": 10, "titlePadding": 12}},
  "y": {"field": "tp", "type": "quantitative", "stack": null, "scale": {"domain": [0,1], "nice": false},
    "axis": {"title": "#TP / #connected", "values": [0,0.2,0.4,0.6,0.8,1], "format": ".1f", "grid": true, "gridColor": "#d4d4d4", "labelPadding": 12, "titlePadding": 12}}
},
"layer": [
  {"mark": {"type": "area", "interpolate": "step-after", "color": "#000000", "opacity": 0.055}},
  {"mark": {"type": "line", "interpolate": "step-after", "color": "#1f77b4", "strokeWidth": 3.5}, "encoding": {"order": {"field": "i", "type": "quantitative"}}},
  {"mark": {"type": "point", "filled": true, "size": 90, "color": "#1f77b4", "opacity": 1}}
]
}
]
}
